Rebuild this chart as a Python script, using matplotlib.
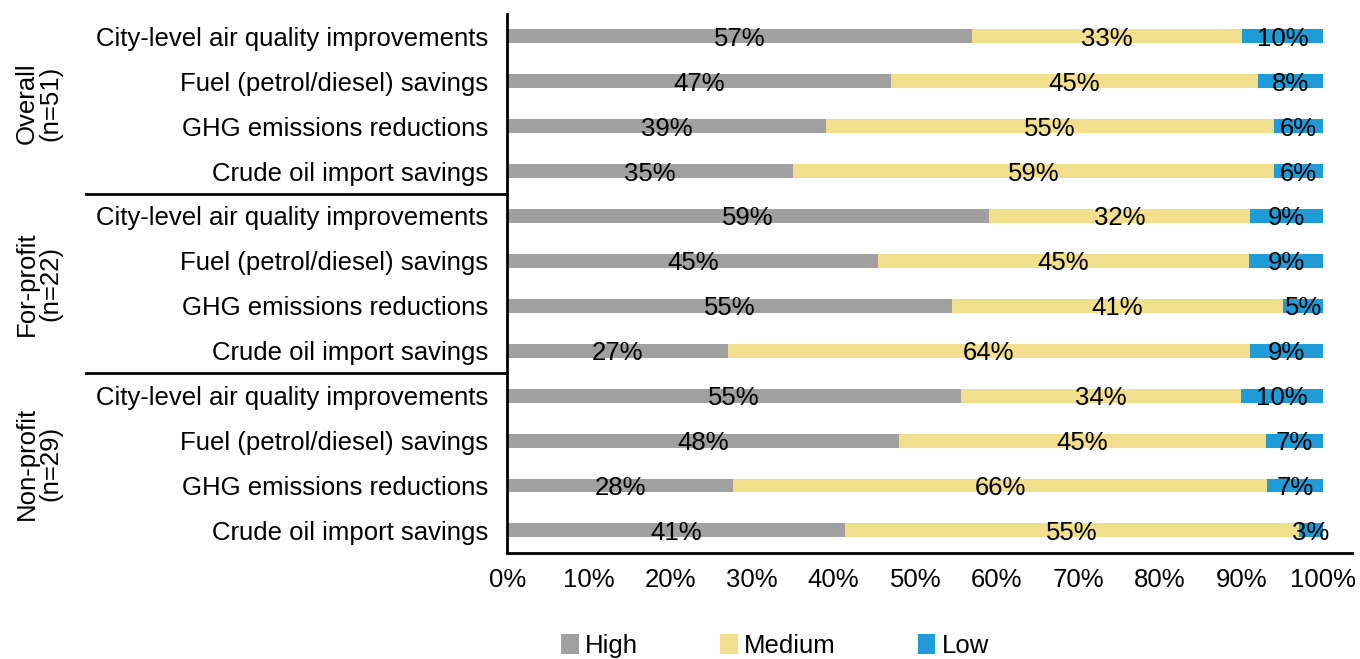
import matplotlib.pyplot as plt
import matplotlib.transforms as mtransforms
import numpy as np

plt.rcParams['font.family'] = ['Liberation Sans', 'DejaVu Sans']

groups = ['Overall\n(n=51)', 'For-profit\n(n=22)', 'Non-profit\n(n=29)']
items = ['City-level air quality improvements', 'Fuel (petrol/diesel) savings',
         'GHG emissions reductions', 'Crude oil import savings']

# percentages per bar, top to bottom
high = [57, 47, 39, 35, 59, 45, 55, 27, 55, 48, 28, 41]
medium = [33, 45, 55, 59, 32, 45, 41, 64, 34, 45, 66, 55]
low = [10, 8, 6, 6, 9, 9, 5, 9, 10, 7, 7, 3]

series = ['High', 'Medium', 'Low']
colors = ['#A0A0A0', '#F2DF8E', '#1F9BD7']

vals = np.array([high, medium, low], dtype=float)
shares = vals / vals.sum(axis=0)  # rows don't always add to 100 after rounding

labels = items * len(groups)
y = np.arange(len(labels))
fs = 18.5

fig = plt.figure(figsize=(13.6, 6.59), dpi=100)
ax = fig.add_axes([0.373, 0.161, 0.621, 0.818])

left = np.zeros(len(labels))
for k in range(3):
    ax.barh(y, shares[k], left=left, height=0.31, color=colors[k], label=series[k])
    for i in range(len(labels)):
        ax.text(left[i] + shares[k][i] / 2, y[i], f'{vals[k][i]:.0f}%',
                ha='center', va='center_baseline', fontsize=fs, color='black')
    left += shares[k]

ax.set_ylim(len(labels) - 0.5, -0.5)
ax.set_xlim(0, 1.035)
ax.set_xticks(np.arange(0, 1.01, 0.1))
ax.set_xticklabels([f'{int(round(t * 100))}%' for t in np.arange(0, 1.01, 0.1)])
ax.set_yticks(y)
ax.set_yticklabels(labels)
ax.tick_params(axis='y', length=0, labelsize=fs, pad=14)
ax.tick_params(axis='x', length=0, labelsize=fs, pad=11)

for s in ['top', 'right']:
    ax.spines[s].set_visible(False)
for s in ['left', 'bottom']:
    ax.spines[s].set_linewidth(2)

trans = mtransforms.blended_transform_factory(ax.transAxes, ax.transData)
for b in [3.5, 7.5]:
    ax.plot([-0.4994, 0], [b, b], color='black', lw=2, transform=trans, clip_on=False)

for g, name in enumerate(groups):
    ax.text(-0.555, g * 4 + 1.5, name, transform=trans, rotation=90,
            ha='center', va='center', fontsize=fs, multialignment='center',
            linespacing=0.95)

fig.legend(loc='center', bbox_to_anchor=(0.57, 0.02), ncol=3, frameon=False,
           fontsize=fs, handlelength=0.67, handleheight=0.8, handletextpad=0.25,
           columnspacing=3.2)

plt.savefig('out.png', dpi=100)
plt.close()
